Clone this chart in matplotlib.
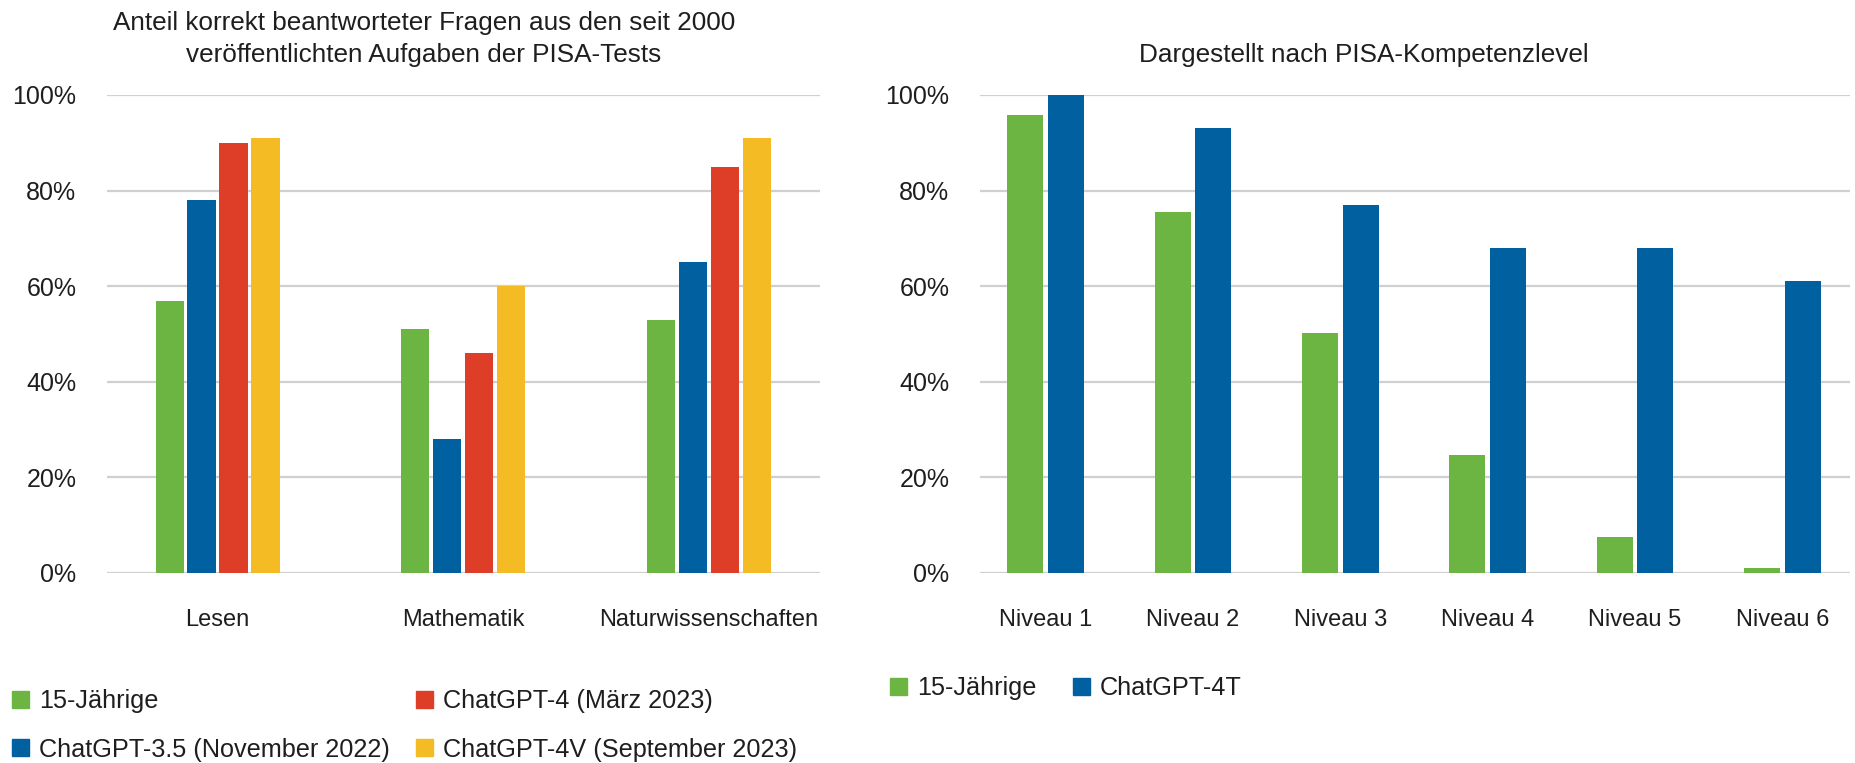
import matplotlib.pyplot as plt
import numpy as np
from matplotlib.patches import Patch

plt.rcParams["font.family"] = ["Liberation Sans", "DejaVu Sans"]

# left chart: share of correct answers per domain
domains = ["Lesen", "Mathematik", "Naturwissenschaften"]
series_left = ["15-Jährige", "ChatGPT-3.5 (November 2022)",
               "ChatGPT-4 (März 2023)", "ChatGPT-4V (September 2023)"]
teens_dom = [57, 51, 53]
gpt35_dom = [78, 28, 65]
gpt4_dom = [90, 46, 85]
gpt4v_dom = [91, 60, 91]

# right chart: by PISA competence level
levels = ["Niveau 1", "Niveau 2", "Niveau 3", "Niveau 4", "Niveau 5", "Niveau 6"]
series_right = ["15-Jährige", "ChatGPT-4T"]
teens_lvl = [95.8, 75.5, 50.2, 24.6, 7.6, 1.0]
gpt4t_lvl = [100, 93, 77, 68, 68, 61]

yticks = [0, 20, 40, 60, 80, 100]
ytick_labels = ["0%", "20%", "40%", "60%", "80%", "100%"]

GREEN = "#6cb543"
BLUE = "#0060a0"
RED = "#de3e28"
YELLOW = "#f5bb25"
TEXT = "#1e1e1e"
FS = 17
FS_T = 18.8
FS_L = 18.2

fig = plt.figure(figsize=(18.56, 7.63), dpi=100)
ax1 = fig.add_axes([107 / 1856, 1 - 573 / 763, 713 / 1856, 478 / 763])
ax2 = fig.add_axes([980 / 1856, 1 - 573 / 763, 870 / 1856, 478 / 763])


def style(ax):
    ax.set_ylim(0, 100)
    ax.set_yticks(yticks)
    ax.set_yticklabels(ytick_labels)
    for sp in ax.spines.values():
        sp.set_visible(False)
    ax.grid(axis="y", color="#d0d0d0", linewidth=1.6)
    ax.set_axisbelow(True)
    ax.tick_params(axis="both", length=0, labelsize=FS, colors=TEXT)
    ax.tick_params(axis="y", pad=22, labelsize=18)
    ax.tick_params(axis="x", pad=26)


# left
x = np.arange(len(domains))
step, w = 0.13, 0.115
left_vals = [teens_dom, gpt35_dom, gpt4_dom, gpt4v_dom]
left_cols = [GREEN, BLUE, RED, YELLOW]
for i, (vals, col) in enumerate(zip(left_vals, left_cols)):
    ax1.bar(x + (i - 1.5) * step, vals, width=w, color=col, zorder=3)
ax1.set_xticks(x)
ax1.set_xticklabels(domains)
ax1.set_xlim(-0.45, 2.453)
style(ax1)

# right
x2 = np.arange(len(levels))
step2, w2 = 0.275, 0.244
ax2.bar(x2 - step2 / 2, teens_lvl, width=w2, color=GREEN, zorder=3)
ax2.bar(x2 + step2 / 2, gpt4t_lvl, width=w2, color=BLUE, zorder=3)
ax2.set_xticks(x2)
ax2.set_xticklabels(levels)
ax2.set_xlim(-0.444, 5.458)
style(ax2)

# titles
fig.text(424 / 1856, 1 - 23 / 763, "Anteil korrekt beantworteter Fragen aus den seit 2000",
         ha="center", va="center", fontsize=FS_T, color=TEXT)
fig.text(424 / 1856, 1 - 55 / 763, "veröffentlichten Aufgaben der PISA-Tests",
         ha="center", va="center", fontsize=FS_T, color=TEXT)
fig.text(1364 / 1856, 1 - 55 / 763, "Dargestellt nach PISA-Kompetenzlevel",
         ha="center", va="center", fontsize=FS_T, color=TEXT)

# legends
h1 = [Patch(color=c) for c in left_cols]
fig.legend(h1, series_left, ncol=2, loc="upper left",
           bbox_to_anchor=(12 / 1856, 1 - 689 / 763), frameon=False,
           borderpad=0, borderaxespad=0,
           fontsize=FS_L, handlelength=0.66, handleheight=0.66, handletextpad=0.4,
           columnspacing=1.05, labelspacing=0.98, labelcolor=TEXT)
h2 = [Patch(color=GREEN), Patch(color=BLUE)]
fig.legend(h2, series_right, ncol=2, loc="upper left",
           bbox_to_anchor=(890 / 1856, 1 - 676 / 763), frameon=False,
           borderpad=0, borderaxespad=0,
           fontsize=FS_L, handlelength=0.66, handleheight=0.66, handletextpad=0.4,
           columnspacing=1.46, labelcolor=TEXT)

fig.savefig("out.png", dpi=100)
